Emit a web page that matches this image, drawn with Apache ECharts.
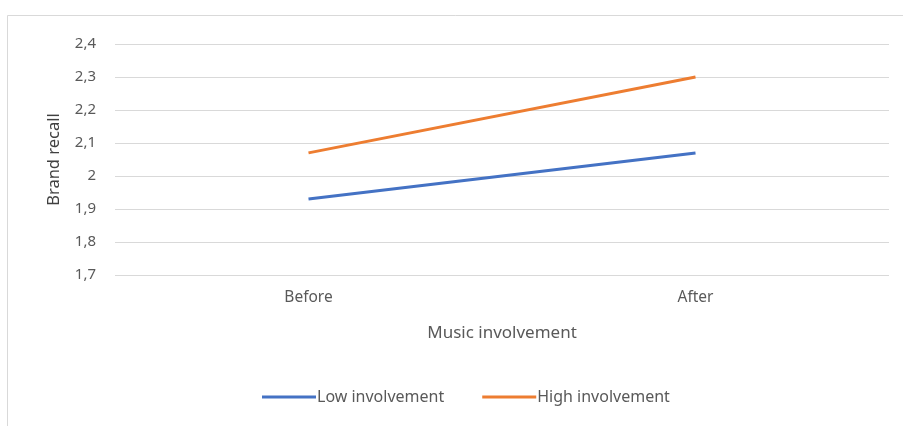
<!DOCTYPE html>
<html>
<head>
<meta charset="utf-8">
<script src="https://cdn.jsdelivr.net/npm/echarts@6/dist/echarts.min.js"></script>
<style>
  html, body { margin: 0; padding: 0; background: #fff; }
  #chart { width: 903px; height: 426px; }
</style>
</head>
<body>
<div id="chart"></div>
<script>
const categories = ["Before", "After"];
const lowInvolvement = [1.93, 2.07];
const highInvolvement = [2.07, 2.3];
const yTicks = [1.7, 1.8, 1.9, 2.0, 2.1, 2.2, 2.3, 2.4];

const textColor = "#595959";
const font = "Noto Sans";

const chart = echarts.init(document.getElementById("chart"));
chart.setOption({
  backgroundColor: "#fff",
  animation: false,
  textStyle: { fontFamily: font },
  graphic: [{
    type: "rect",
    shape: { x: 7.5, y: 15.5, width: 910, height: 430 },
    style: { fill: "none", stroke: "#d9d9d9", lineWidth: 1 },
    silent: true
  }],
  legend: {
    data: ["Low involvement", "High involvement"],
    bottom: 16,
    left: 257,
    icon: "rect",
    itemWidth: 54,
    itemHeight: 3,
    itemGap: 38,
    textStyle: { color: textColor, fontSize: 16, fontFamily: font, padding: [0, 0, 0, -4] }
  },
  grid: { left: 115, right: 14, top: 44, bottom: 151 },
  xAxis: {
    type: "category",
    data: categories,
    boundaryGap: true,
    name: "Music involvement",
    nameLocation: "middle",
    nameGap: 50,
    nameTextStyle: { color: textColor, fontSize: 17, fontFamily: font },
    axisLine: { show: false },
    axisTick: { show: false },
    axisLabel: { color: textColor, fontSize: 15.5, margin: 15, fontFamily: font },
    splitLine: { show: false }
  },
  yAxis: {
    type: "value",
    min: yTicks[0],
    max: yTicks[yTicks.length - 1],
    interval: 0.1,
    name: "Brand recall",
    nameLocation: "middle",
    nameGap: 52,
    nameTextStyle: { color: "#404040", fontSize: 16.5, fontFamily: font },
    axisLine: { show: false },
    axisTick: { show: false },
    axisLabel: {
      color: textColor,
      fontSize: 15,
      margin: 19,
      fontFamily: font,
      formatter: (v) => {
        const r = Math.round(v * 10) / 10;
        return String(r).replace(".", ",");
      }
    },
    splitLine: { lineStyle: { color: "#d9d9d9", width: 1 } }
  },
  series: [
    {
      name: "Low involvement",
      type: "line",
      data: lowInvolvement,
      symbol: "none",
      lineStyle: { color: "#4472C4", width: 3 },
      itemStyle: { color: "#4472C4" }
    },
    {
      name: "High involvement",
      type: "line",
      data: highInvolvement,
      symbol: "none",
      lineStyle: { color: "#ED7D31", width: 3 },
      itemStyle: { color: "#ED7D31" }
    }
  ]
});
</script>
</body>
</html>
